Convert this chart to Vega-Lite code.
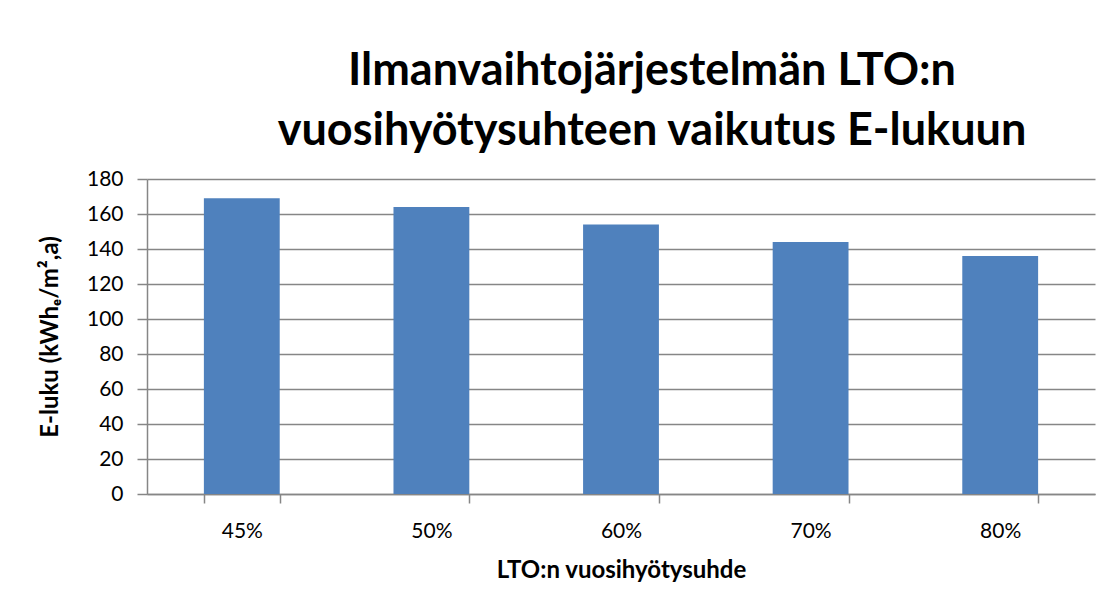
{
  "$schema": "https://vega.github.io/schema/vega-lite/v6.json",
  "width": 948,
  "height": 315,
  "autosize": {"type": "none"},
  "padding": {"left": 147, "top": 179, "right": 23, "bottom": 120},
  "background": "white",
  "title": {
    "text": ["Ilmanvaihtojärjestelmän LTO:n", "vuosihyötysuhteen vaikutus E-lukuun"],
    "font": "Lato",
    "fontSize": 45,
    "fontWeight": "bold",
    "lineHeight": 60,
    "color": "#000000",
    "anchor": "middle",
    "dx": 31,
    "offset": 14
  },
  "data": {
    "values": [
      {"lto": "45%", "eluku": 169},
      {"lto": "50%", "eluku": 164},
      {"lto": "60%", "eluku": 154},
      {"lto": "70%", "eluku": 144},
      {"lto": "80%", "eluku": 136}
    ]
  },
  "mark": {"type": "bar", "color": "#4F81BD"},
  "encoding": {
    "x": {
      "field": "lto",
      "type": "ordinal",
      "sort": null,
      "scale": {"paddingInner": 0.6, "paddingOuter": 0.3},
      "axis": {
        "title": "LTO:n vuosihyötysuhde",
        "titleFont": "Lato",
        "titleFontSize": 24,
        "titleFontWeight": "bold",
        "titleColor": "#000000",
        "titlePadding": 17,
        "labelFont": "Lato",
        "labelFontSize": 21,
        "labelColor": "#000000",
        "labelAngle": 0,
        "labelPadding": 17,
        "tickBand": "extent",
        "tickSize": 9,
        "tickColor": "#868686",
        "domainColor": "#868686",
        "domainWidth": 1.5,
        "tickWidth": 1.5
      }
    },
    "y": {
      "field": "eluku",
      "type": "quantitative",
      "scale": {"domain": [0, 180]},
      "axis": {
        "title": "E-luku (kWhₑ/m²,a)",
        "titleFont": "Lato",
        "titleFontSize": 24,
        "titleFontWeight": "bold",
        "titleColor": "#000000",
        "titlePadding": 24,
        "values": [0, 20, 40, 60, 80, 100, 120, 140, 160, 180],
        "labelFont": "Lato",
        "labelFontSize": 21,
        "labelColor": "#000000",
        "labelPadding": 14,
        "tickSize": 10,
        "tickColor": "#868686",
        "tickWidth": 1.5,
        "domainColor": "#868686",
        "domainWidth": 1.5,
        "grid": true,
        "gridColor": "#868686",
        "gridWidth": 1.5
      }
    }
  },
  "config": {"view": {"stroke": null}}
}
